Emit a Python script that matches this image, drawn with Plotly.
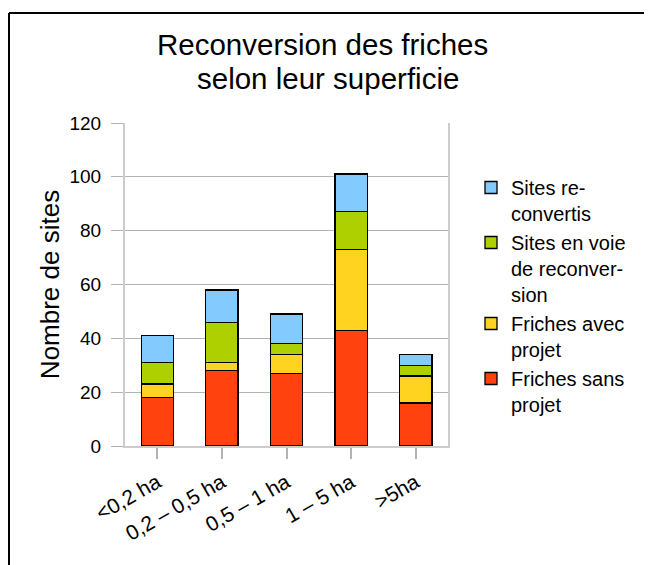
import plotly.graph_objects as go

categories = ["<0,2 ha", "0,2 – 0,5 ha", "0,5 – 1 ha", "1 – 5 ha", ">5ha"]
friches_sans_projet = [18, 28, 27, 43, 16]
friches_avec_projet = [5, 3, 7, 30, 10]
sites_en_voie = [8, 15, 4, 14, 4]
sites_reconvertis = [10, 12, 11, 14, 4]

series = [
    ("Friches sans<br>projet", friches_sans_projet, "#ff420e"),
    ("Friches avec<br>projet", friches_avec_projet, "#ffd320"),
    ("Sites en voie<br>de reconver-<br>sion", sites_en_voie, "#aecf00"),
    ("Sites re-<br>convertis", sites_reconvertis, "#83caff"),
]

W, H = 652, 565
OFF = 8  # page offset (body margin)
L, R, T, B = 125, 448, 123, 446  # plot area in reference pixels
FW, FH = W - OFF, H - OFF

fig = go.Figure()
for name, vals, col in series:
    fig.add_trace(go.Bar(
        x=categories, y=vals, name=name,
        marker=dict(color=col, line=dict(color="#000000", width=1.3)),
    ))

font = "Liberation Sans, Arial, sans-serif"
pw = R - L
ph = B - T
fx = lambda px: (px - L) / pw
fy = lambda py: (B - py) / ph

fig.update_layout(
    width=FW, height=FH,
    margin=dict(l=L - OFF, r=FW - (R - OFF), t=T - OFF, b=FH - (B - OFF),
                autoexpand=False),
    barmode="stack", bargap=0.5,
    plot_bgcolor="white", paper_bgcolor="white",
    font=dict(family=font, color="#000000", size=19),
    legend=dict(
        x=fx(471), xanchor="left", y=fy(168), yanchor="top",
        traceorder="reversed", font=dict(size=20, family=font),
        valign="top", itemwidth=30,
    ),
    xaxis=dict(
        showline=True, linecolor="#cccccc", linewidth=2,
        ticks="outside", ticklen=11, tickcolor="#b3b3b3", tickwidth=2,
        tickangle=-30, tickfont=dict(size=21), ticklabelstandoff=3,
    ),
    yaxis=dict(
        range=[0, 120], dtick=20, showline=True, mirror=True,
        linecolor="#cccccc", linewidth=2,
        ticks="outside", ticklen=12, tickcolor="#b3b3b3", tickwidth=1,
        gridcolor="#b3b3b3", gridwidth=1, zeroline=False,
        tickfont=dict(size=19), ticklabelstandoff=6,
        title=dict(text="Nombre de sites", font=dict(size=26), standoff=2),
    ),
    annotations=[
        dict(text="Reconversion des friches", xref="paper", yref="paper",
             x=fx(322), y=fy(44.5), xanchor="center", yanchor="middle",
             showarrow=False, font=dict(size=29.5, family=font)),
        dict(text="selon leur superficie", xref="paper", yref="paper",
             x=fx(328), y=fy(78.5), xanchor="center", yanchor="middle",
             showarrow=False, font=dict(size=29.5, family=font)),
    ],
    shapes=[
        dict(type="line", xref="paper", yref="paper",
             x0=fx(9), x1=fx(9), y0=fy(13), y1=fy(H + 20),
             line=dict(color="#000000", width=2)),
        dict(type="line", xref="paper", yref="paper",
             x0=fx(9), x1=fx(W + 20), y0=fy(13), y1=fy(13),
             line=dict(color="#000000", width=2)),
    ],
)

fig.write_html("out.html")
